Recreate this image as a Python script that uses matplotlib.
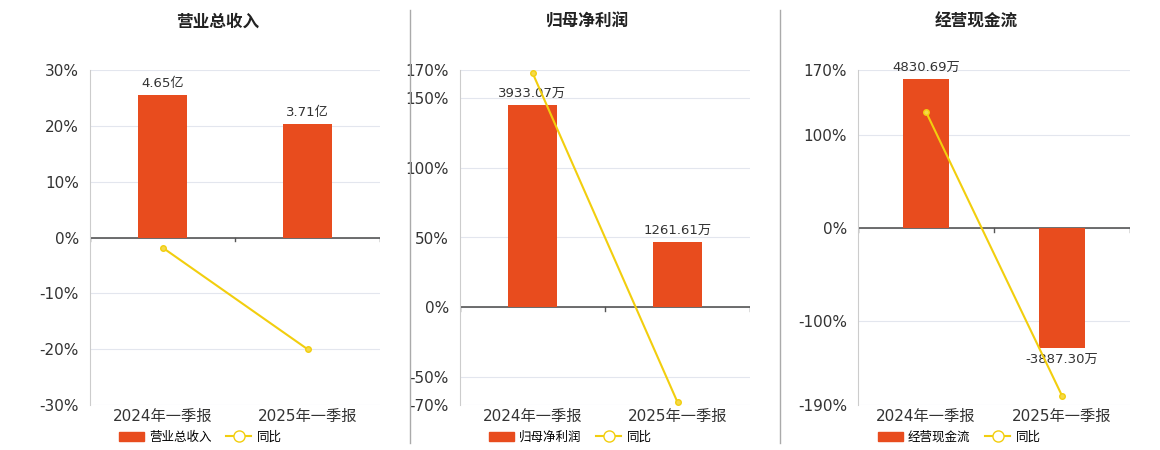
import matplotlib
matplotlib.use("Agg")
import matplotlib.pyplot as plt
from matplotlib.lines import Line2D
from matplotlib.patches import Patch

plt.rcParams['font.family'] = ['DejaVu Sans', 'Noto Sans CJK SC']

categories = ["2024年一季报", "2025年一季报"]
titles = ["营业总收入", "归母净利润", "经营现金流"]
bar_values = [[4.65, 3.71], [3933.07, 1261.61], [4830.69, -3887.30]]
bar_labels = [["4.65亿", "3.71亿"], ["3933.07万", "1261.61万"], ["4830.69万", "-3887.30万"]]
yoy = [[-1.8, -20.0], [168.0, -68.0], [125.0, -180.0]]
yticks = [[-30, -20, -10, 0, 10, 20, 30], [-70, -50, 0, 50, 100, 150, 170], [-190, -100, 0, 100, 170]]
ylims = [(-30, 30), (-70, 170), (-190, 170)]
bar_pct_top = [25.5, 145.0, 160.0]  # visual height of first bar in % units

BAR = '#E84C1E'
LINE = '#F2CE0E'
W, H = 1160, 450
fig = plt.figure(figsize=(11.6, 4.5), dpi=100)
boxes = [(90, 380), (460, 750), (858, 1130)]
top, bot = 70, 405
for i in range(3):
    x0, x1 = boxes[i]
    ax = fig.add_axes([x0 / W, 1 - bot / H, (x1 - x0) / W, (bot - top) / H])
    lo, hi = ylims[i]
    ax.set_ylim(lo, hi)
    ax.set_xlim(-0.5, 1.5)
    ax.set_yticks(yticks[i])
    ax.set_yticklabels([f"{t}%" for t in yticks[i]], fontsize=11, color='#333333')
    ax.grid(axis='y', color='#E3E6EE', lw=0.8)
    ax.set_axisbelow(True)
    for s in ['top', 'right', 'bottom']:
        ax.spines[s].set_visible(False)
    ax.spines['left'].set_color('#CCCCCC')
    ax.tick_params(axis='y', length=0, pad=8)
    ax.tick_params(axis='x', length=0, pad=3)
    ax.set_xticks([0, 1])
    ax.set_xticklabels(categories, fontsize=11, color='#333333')
    ax.axhline(0, color='#555555', lw=1.2, zorder=2)
    for xt in [-0.5, 0.5, 1.5]:
        ax.plot([xt, xt], [0, -(hi - lo) * 0.01], color='#555555', lw=1, zorder=2)
    f = bar_values[i][0] / bar_pct_top[i]
    ax2 = ax.twinx()
    ax2.set_ylim(lo * f, hi * f)
    ax2.axis('off')
    ax2.bar([0, 1], bar_values[i], width=0.34, color=BAR, zorder=2)
    for j, v in enumerate(bar_values[i]):
        ax2.text(j, v + (hi - lo) * f * 0.015 if v > 0 else v - (hi - lo) * f * 0.015,
                 bar_labels[i][j], ha='center', va='bottom' if v > 0 else 'top',
                 fontsize=9.5, color='#333333')
    ax3 = ax.twinx()
    ax3.set_ylim(lo, hi)
    ax3.axis('off')
    ax3.plot([0, 1], yoy[i], color=LINE, lw=1.5, marker='o', ms=4,
             mfc='#F5D94A', mec=LINE, zorder=5)
    fig.text((x0 + x1) / 2 / W - 0.015, 1 - 22 / H, titles[i], ha='center', va='center',
             fontsize=12, fontweight='bold', color='#222222')
    handles = [Patch(color=BAR), Line2D([], [], color=LINE, marker='o', mfc='white', mec=LINE, ms=8, lw=1.5)]
    fig.legend(handles, [titles[i], '同比'], loc='center', ncol=2, frameon=False,
               bbox_to_anchor=((x0 + x1) / 2 / W - 0.03, 1 - 437 / H), fontsize=9,
               handlelength=2, columnspacing=1.2, handletextpad=0.4, borderpad=0)

for xs in [410, 780]:
    fig.add_artist(Line2D([xs / W, xs / W], [1 - 443 / H, 1 - 10 / H], color='#AAAAAA', lw=1))

fig.savefig('out.png', dpi=100, facecolor='white')
